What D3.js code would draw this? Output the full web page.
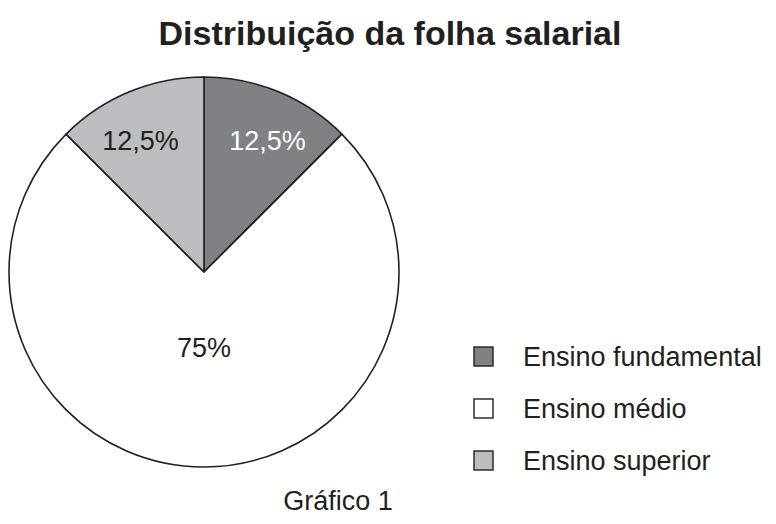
<!DOCTYPE html>
<html><head><meta charset="utf-8">
<script src="https://cdn.jsdelivr.net/npm/d3@7/dist/d3.min.js"></script>
<style>body{margin:0;background:#fff;}svg{display:block;}</style>
</head><body>
<svg id="chart" width="776" height="524"></svg>
<script>
const categories = ["Ensino fundamental", "Ensino médio", "Ensino superior"];
const values = [12.5, 75, 12.5];
const labels = ["12,5%", "75%", "12,5%"];
const colors = ["#808184", "#ffffff", "#bcbdc0"];
const labelColors = ["#ffffff", "#231f20", "#231f20"];
const title = "Distribuição da folha salarial";
const caption = "Gráfico 1";

const svg = d3.select("#chart");
const font = "'Liberation Sans', Arial, sans-serif";
const cx = 204, cy = 272, r = 195;

svg.append("text").attr("x", 390).attr("y", 45).attr("text-anchor", "middle")
  .attr("font-family", font).attr("font-weight", "bold").attr("font-size", 34)
  .attr("fill", "#231f20").text(title);

const pie = d3.pie().sort(null).value(d => d);
const arcs = pie(values);
const arc = d3.arc().innerRadius(0).outerRadius(r);
const g = svg.append("g").attr("transform", `translate(${cx},${cy})`);
g.selectAll("path").data(arcs).join("path")
  .attr("d", arc).attr("fill", (d, i) => colors[i])
  .attr("stroke", "#231f20").attr("stroke-width", 1.6).attr("stroke-linejoin", "round");

const labelArc = d3.arc().innerRadius(166).outerRadius(166);
g.selectAll("text.lbl").data(arcs).join("text").attr("class", "lbl")
  .attr("x", (d, i) => i === 1 ? 0 : labelArc.centroid(d)[0])
  .attr("y", (d, i) => i === 1 ? 85 : -122)
  .attr("text-anchor", "middle").attr("font-family", font).attr("font-size", 27)
  .attr("fill", (d, i) => labelColors[i]).text((d, i) => labels[i]);

const leg = svg.append("g").attr("transform", "translate(474,347)");
const rows = leg.selectAll("g").data(categories).join("g")
  .attr("transform", (d, i) => `translate(0,${i * 52})`);
rows.append("rect").attr("width", 19).attr("height", 19)
  .attr("fill", (d, i) => colors[i]).attr("stroke", "#231f20").attr("stroke-width", 1.4);
rows.append("text").attr("x", 49).attr("y", 19).attr("font-family", font)
  .attr("font-size", 27).attr("fill", "#231f20").text(d => d);

svg.append("text").attr("x", 338).attr("y", 510).attr("text-anchor", "middle")
  .attr("font-family", font).attr("font-size", 27).attr("fill", "#231f20").text(caption);
</script>
</body></html>
